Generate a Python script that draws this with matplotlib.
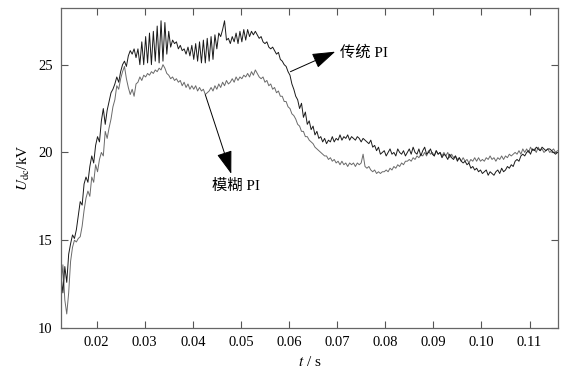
import numpy as np
import matplotlib
matplotlib.use("Agg")
from matplotlib import pyplot as plt

plt.rcParams['font.family'] = ['Liberation Serif', 'Noto Sans CJK SC']
plt.rcParams['mathtext.fontset'] = 'stix'

# sampled DC voltage (kV), one value every 0.4 ms starting at 12.6 ms
t_start = 0.0126
t_step = 0.0004

# traditional PI controller
u_trad = [
    13.0, 12.0, 13.5, 12.6, 14.2, 14.8, 15.3, 15.1, 15.6, 16.4,
    17.2, 17.0, 18.2, 18.6, 18.3, 19.2, 19.8, 19.4, 20.4, 20.9,
    20.6, 21.8, 22.5, 21.6, 22.4, 22.9, 23.4, 23.6, 23.9, 24.3,
    24.0, 24.6, 25.0, 25.2, 24.9, 25.5, 25.8, 25.6, 25.9, 25.4,
    25.9, 25.0, 26.3, 25.0, 26.6, 25.1, 26.8, 25.0, 26.9, 25.2,
    27.2, 25.1, 27.5, 25.2, 27.4, 25.6, 26.9, 26.0, 26.4, 26.2,
    26.3, 25.9, 26.1, 25.8, 25.9, 25.6, 26.0, 25.5, 26.1, 25.3,
    26.2, 25.2, 26.3, 25.1, 26.4, 25.1, 26.5, 25.2, 26.6, 25.3,
    26.7, 25.9, 26.8, 26.6, 27.0, 27.5, 26.4, 26.5, 26.2, 26.6,
    26.3, 26.8, 26.2, 26.9, 26.3, 27.0, 26.4, 27.0, 26.6, 26.9,
    26.7, 26.9, 26.7, 26.5, 26.6, 26.3, 26.2, 26.3, 26.0, 25.9,
    26.0, 25.8, 25.6, 25.7, 25.3, 25.2, 25.0, 24.9, 24.6, 24.4,
    23.9, 23.6, 23.2, 23.0, 22.5, 22.8, 22.0, 22.3, 21.6, 21.8,
    21.3, 21.5, 21.0, 21.2, 20.8, 20.9, 20.6, 20.8, 20.5, 20.7,
    20.6, 20.9, 20.6, 20.8, 20.7, 21.0, 20.7, 20.9, 20.8, 21.0,
    20.7, 20.9, 20.8, 20.7, 20.9, 20.8, 20.6, 20.8, 20.7, 20.6,
    20.5, 20.7, 20.3, 20.4, 20.1, 20.3, 19.9, 20.0, 20.1, 19.8,
    20.0, 20.2, 19.9, 20.0, 19.8, 20.2, 20.0, 19.9, 20.1, 19.8,
    20.0, 20.2, 19.9, 20.3, 20.0, 19.9, 20.2, 19.8, 20.1, 20.3,
    19.9, 20.0, 20.2, 19.9, 19.8, 20.1, 19.9, 20.0, 19.7, 19.9,
    19.8, 19.6, 19.9, 19.7, 19.6, 19.8, 19.5, 19.7, 19.5, 19.4,
    19.5, 19.3, 19.4, 19.1, 19.2, 19.0, 19.1, 18.9, 19.0, 18.8,
    18.9, 19.0, 18.7, 18.9, 18.8, 18.7, 18.9, 19.0, 18.8, 19.1,
    18.9, 19.0, 19.2, 19.1, 19.3, 19.2, 19.5, 19.6, 19.5, 19.8,
    19.9, 19.8, 20.0, 20.1, 19.9, 20.2, 20.1, 20.3, 20.2, 20.1,
    20.3, 20.2, 20.1, 20.2, 20.2, 20.1, 20.0, 19.9, 20.0,
]

# fuzzy PI controller
u_fuzzy = [
    12.3, 13.6, 11.6, 10.8, 12.0, 13.8, 14.6, 15.0, 14.9, 15.1,
    15.2, 15.8, 16.7, 17.4, 17.8, 17.5, 18.6, 18.3, 19.3, 18.9,
    19.6, 20.0, 19.8, 21.2, 20.8, 21.4, 21.9, 22.6, 23.0, 23.8,
    23.6, 24.2, 24.6, 24.9, 24.2, 23.7, 23.3, 23.6, 23.2, 23.9,
    24.0, 24.3, 24.1, 24.4, 24.3, 24.5, 24.4, 24.6, 24.5, 24.7,
    24.6, 24.8, 24.7, 25.0, 24.8, 24.5, 24.4, 24.2, 24.3, 24.1,
    24.2, 24.0, 24.1, 23.8, 24.0, 23.7, 23.9, 23.6, 23.8, 23.6,
    23.8, 23.5, 23.7, 23.5, 23.6, 23.3, 23.4, 23.5, 23.7, 23.5,
    23.8, 23.6, 23.9, 23.7, 24.0, 23.8, 24.1, 23.9, 24.0, 24.2,
    24.0, 24.3, 24.1, 24.3, 24.2, 24.4, 24.3, 24.5, 24.3, 24.6,
    24.4, 24.7, 24.5, 24.3, 24.2, 24.3, 24.0, 24.1, 23.8, 23.9,
    23.6, 23.7, 23.4, 23.5, 23.2, 23.2, 22.9, 22.9, 22.6, 22.5,
    22.2, 22.1, 21.9, 21.6, 21.5, 21.2, 21.2, 20.9, 20.9, 20.7,
    20.6, 20.5, 20.3, 20.2, 20.1, 20.0, 19.9, 19.8, 19.8, 19.6,
    19.7, 19.5, 19.6, 19.4, 19.5, 19.3, 19.5, 19.3, 19.4, 19.2,
    19.4, 19.3, 19.4, 19.2, 19.4, 19.3, 19.4, 19.9, 19.2, 19.1,
    19.2, 19.0, 18.9, 19.0, 18.8, 18.9, 18.8, 18.9, 18.9, 19.0,
    18.9, 19.1, 19.0, 19.2, 19.1, 19.3, 19.2, 19.4, 19.3, 19.5,
    19.5, 19.6, 19.5, 19.7, 19.6, 19.8, 19.7, 19.9, 19.8, 20.0,
    19.8, 20.1, 19.9, 20.0, 19.8, 20.1, 19.9, 20.0, 19.8, 20.0,
    19.8, 20.0, 19.7, 19.9, 19.7, 19.8, 19.6, 19.7, 19.5, 19.7,
    19.5, 19.6, 19.4, 19.6, 19.5, 19.7, 19.5, 19.7, 19.5, 19.6,
    19.5, 19.7, 19.6, 19.8, 19.6, 19.7, 19.5, 19.7, 19.6, 19.8,
    19.6, 19.8, 19.7, 19.9, 19.8, 19.9, 20.0, 19.9, 20.1, 19.9,
    20.2, 20.0, 20.2, 20.0, 20.3, 20.1, 20.2, 20.0, 20.3, 20.1,
    20.2, 20.0, 20.1, 20.2, 20.0, 20.1, 20.2, 20.0, 20.1,
]

x_ticks = [0.02, 0.03, 0.04, 0.05, 0.06, 0.07, 0.08, 0.09, 0.10, 0.11]
y_ticks = [10, 15, 20, 25]

t_trad = t_start + t_step * np.arange(len(u_trad))
t_fuzzy = t_start + t_step * np.arange(len(u_fuzzy))

fig = plt.figure(figsize=(5.63, 3.79), dpi=100)
ax = fig.add_axes([0.1083, 0.1346, 0.8827, 0.843])

# fuzzy drawn first so the darker traditional curve sits on top
ax.plot(t_fuzzy, u_fuzzy, color='#6a6a6a', lw=0.7)
ax.plot(t_trad, u_trad, color='#1a1a1a', lw=0.7)

ax.set_xlim(0.0126, 0.1159)
ax.set_ylim(10, 28.2)
ax.set_xticks(x_ticks)
ax.set_xticklabels(['%.2f' % x for x in x_ticks])
ax.set_yticks(y_ticks)

ax.tick_params(direction='in', top=True, right=True, length=5, width=0.8,
               color='#555555', labelsize=10.5, pad=6)
for s in ax.spines.values():
    s.set_color('#666666')
    s.set_linewidth(0.9)

ax.set_xlabel(r'$t$ / s', fontsize=11, labelpad=4)
ax.set_ylabel(r'$U_{\mathrm{dc}}$/kV', fontsize=11, labelpad=4)

# annotation arrows
arrow = dict(arrowstyle='-|>,head_length=0.9,head_width=0.3', color='k',
             lw=0.7, mutation_scale=16, shrinkA=0, shrinkB=0)
ax.annotate('', xy=(0.0696, 25.74), xytext=(0.0603, 24.6), arrowprops=arrow)
ax.text(0.0705, 25.68, '传统 PI', fontsize=11, va='center', ha='left')
ax.annotate('', xy=(0.0480, 18.78), xytext=(0.0426, 23.29), arrowprops=arrow)
ax.text(0.0490, 18.1, '模糊 PI', fontsize=11, va='center', ha='center')

fig.savefig('out.png', dpi=100)
